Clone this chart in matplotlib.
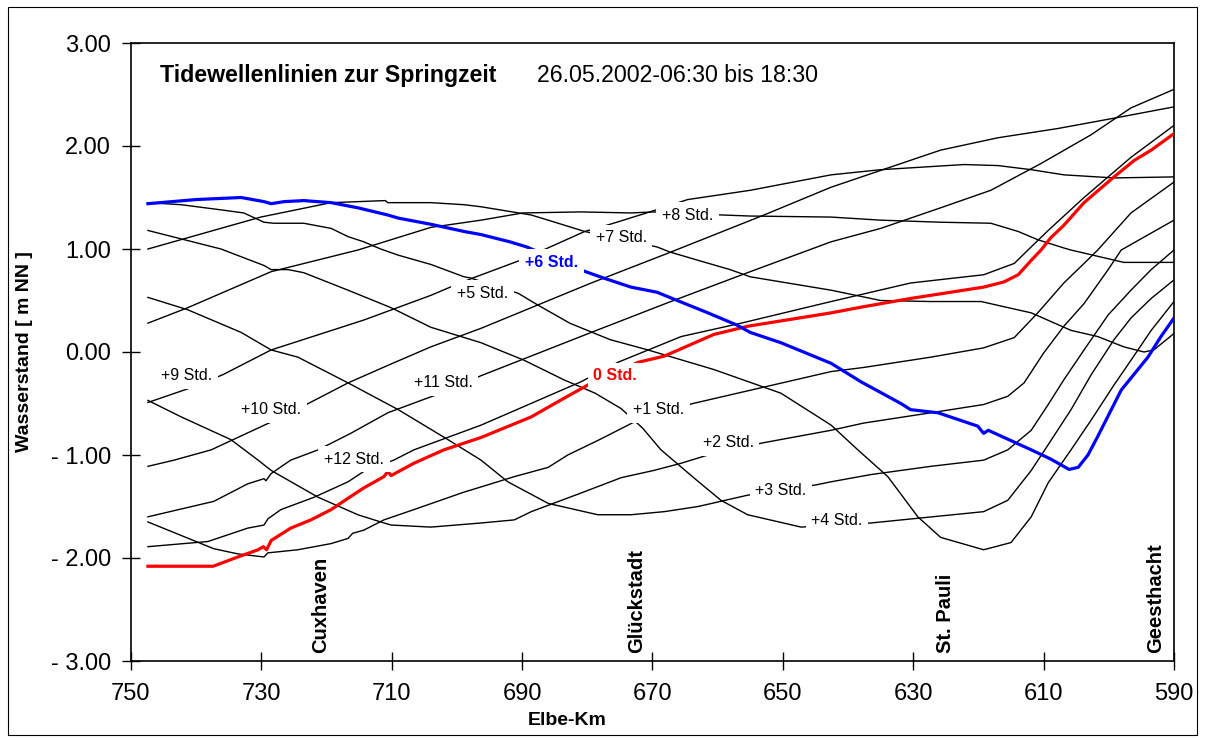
import matplotlib
matplotlib.use("Agg")
import matplotlib.pyplot as plt
from matplotlib.patches import Rectangle
from matplotlib.ticker import FuncFormatter

plt.rcParams['font.family'] = ['Liberation Sans', 'DejaVu Sans']

# Tidewellenlinien 26.05.2002, Elbe-Km und Wasserstand [m NN] je Stunde
km_0 = [747.4, 737.4, 733.6, 730.5, 729.7, 729.2, 728.5, 725.5, 722.4, 719.3, 716.7, 714.3, 711.2, 710.6, 710.1, 706.6, 702.0, 696.3, 688.6, 683.6, 679.9, 672.2, 668.2, 660.6, 655.4, 642.6, 637.6, 630.4, 625.3, 619.2, 616.1, 613.9, 611.9, 610.4, 608.9, 606.9, 603.8, 599.2, 596.1, 593.5, 590.0]
wl_0 = [-2.08, -2.08, -1.99, -1.92, -1.89, -1.92, -1.83, -1.71, -1.63, -1.53, -1.42, -1.32, -1.21, -1.16, -1.20, -1.08, -0.95, -0.83, -0.63, -0.45, -0.32, -0.10, -0.04, 0.17, 0.25, 0.38, 0.44, 0.52, 0.57, 0.63, 0.68, 0.75, 0.89, 0.99, 1.11, 1.23, 1.45, 1.70, 1.86, 1.96, 2.12]

km_1 = [747.4, 737.3, 733.6, 729.6, 729.0, 724.4, 719.3, 716.7, 716.0, 714.3, 711.2, 706.6, 698.9, 696.3, 691.2, 686.0, 683.0, 678.1, 672.2, 663.8, 642.6, 637.6, 627.3, 619.2, 614.5, 610.9, 606.9, 603.8, 601.7, 596.6, 590.0]
wl_1 = [-1.65, -1.91, -1.96, -1.99, -1.95, -1.92, -1.86, -1.81, -1.76, -1.73, -1.63, -1.53, -1.36, -1.31, -1.21, -1.12, -1.00, -0.85, -0.66, -0.50, -0.19, -0.15, -0.05, 0.04, 0.14, 0.38, 0.67, 0.86, 0.99, 1.35, 1.65]

km_2 = [747.4, 742.3, 734.7, 730.5, 728.5, 721.3, 715.2, 711.7, 710.1, 704.0, 696.3, 691.2, 688.6, 681.0, 674.8, 669.8, 665.6, 661.5, 652.9, 642.6, 637.6, 627.3, 619.2, 615.5, 613.0, 610.0, 606.9, 603.8, 600.1, 598.1, 590.0]
wl_2 = [-0.47, -0.63, -0.85, -1.05, -1.15, -1.41, -1.58, -1.65, -1.68, -1.70, -1.66, -1.63, -1.55, -1.37, -1.22, -1.15, -1.08, -1.00, -0.88, -0.76, -0.69, -0.59, -0.51, -0.43, -0.30, -0.01, 0.25, 0.47, 0.80, 0.99, 1.28]

km_3 = [747.4, 741.3, 733.1, 728.5, 724.4, 716.7, 709.0, 701.4, 696.3, 692.2, 686.0, 678.4, 673.3, 668.2, 663.0, 655.4, 644.9, 642.6, 636.5, 627.3, 619.2, 615.5, 611.9, 609.3, 606.9, 603.8, 600.1, 596.6, 593.5, 590.0]
wl_3 = [0.53, 0.41, 0.19, 0.02, -0.05, -0.30, -0.56, -0.85, -1.05, -1.26, -1.47, -1.58, -1.58, -1.55, -1.50, -1.39, -1.29, -1.26, -1.19, -1.11, -1.05, -0.95, -0.76, -0.51, -0.27, 0.02, 0.36, 0.60, 0.80, 0.99]

km_4 = [747.4, 736.2, 729.6, 728.5, 725.9, 723.5, 716.7, 710.1, 704.0, 696.3, 689.7, 683.6, 678.8, 674.8, 671.5, 668.7, 663.5, 659.5, 655.4, 647.2, 636.5, 619.2, 615.5, 611.9, 609.3, 605.8, 602.7, 599.2, 596.6, 593.5, 590.0]
wl_4 = [1.18, 1.00, 0.84, 0.80, 0.80, 0.77, 0.60, 0.43, 0.24, 0.09, -0.08, -0.27, -0.40, -0.55, -0.74, -0.95, -1.23, -1.44, -1.58, -1.70, -1.66, -1.55, -1.44, -1.15, -0.90, -0.56, -0.22, 0.12, 0.33, 0.52, 0.70]

km_5 = [747.4, 742.3, 736.2, 732.7, 729.6, 728.1, 723.5, 719.3, 716.7, 714.3, 711.7, 709.0, 704.0, 698.9, 698.0, 690.6, 687.7, 682.7, 676.5, 670.7, 660.6, 650.3, 642.6, 638.5, 633.9, 629.3, 625.8, 619.2, 615.0, 611.9, 609.3, 605.8, 602.7, 599.2, 596.6, 593.5, 590.0]
wl_5 = [1.45, 1.43, 1.38, 1.35, 1.26, 1.25, 1.25, 1.20, 1.12, 1.07, 1.00, 0.94, 0.85, 0.73, 0.72, 0.57, 0.46, 0.28, 0.12, 0.02, -0.17, -0.40, -0.71, -0.95, -1.21, -1.60, -1.80, -1.92, -1.85, -1.60, -1.27, -0.95, -0.66, -0.32, -0.08, 0.21, 0.49]

km_6 = [747.4, 740.0, 733.1, 729.6, 728.5, 726.5, 723.5, 719.3, 715.2, 710.6, 709.0, 704.0, 698.9, 696.3, 691.9, 689.3, 680.7, 677.6, 673.3, 669.3, 666.2, 661.5, 657.0, 655.0, 650.3, 642.6, 638.0, 631.9, 630.4, 626.2, 620.1, 619.2, 618.5, 611.9, 608.9, 606.1, 604.7, 603.2, 601.7, 598.1, 594.0, 592.0, 590.0]
wl_6 = [1.44, 1.48, 1.50, 1.46, 1.44, 1.46, 1.47, 1.45, 1.40, 1.33, 1.30, 1.24, 1.17, 1.14, 1.07, 1.02, 0.79, 0.72, 0.63, 0.58, 0.50, 0.38, 0.26, 0.19, 0.09, -0.11, -0.29, -0.50, -0.56, -0.59, -0.72, -0.79, -0.76, -0.95, -1.04, -1.14, -1.12, -1.00, -0.82, -0.37, -0.05, 0.15, 0.33]

km_7 = [747.4, 730.1, 719.3, 711.0, 710.6, 704.0, 698.9, 696.3, 688.6, 686.0, 680.4, 669.3, 667.3, 663.0, 658.1, 655.0, 642.6, 635.0, 627.3, 619.6, 611.9, 605.8, 601.7, 597.7, 594.6, 593.1, 590.0]
wl_7 = [1.00, 1.31, 1.45, 1.47, 1.45, 1.45, 1.43, 1.41, 1.33, 1.28, 1.17, 1.02, 0.97, 0.89, 0.80, 0.73, 0.60, 0.50, 0.49, 0.49, 0.38, 0.21, 0.15, 0.05, 0.00, 0.02, 0.18]

km_8 = [747.4, 741.3, 728.5, 715.2, 704.0, 696.3, 689.9, 681.0, 673.3, 669.9, 659.2, 655.0, 642.6, 635.0, 625.8, 618.1, 613.9, 610.9, 606.9, 605.8, 597.7, 590.0]
wl_8 = [0.28, 0.43, 0.78, 0.99, 1.21, 1.28, 1.35, 1.36, 1.35, 1.36, 1.33, 1.32, 1.31, 1.28, 1.26, 1.25, 1.17, 1.09, 1.01, 0.99, 0.87, 0.87]

km_9 = [747.4, 740.5, 735.9, 728.5, 714.3, 704.0, 701.4, 697.5, 690.3, 685.7, 680.4, 676.5, 670.4, 664.6, 655.0, 642.6, 635.0, 622.2, 617.0, 611.9, 606.9, 599.2, 590.0]
wl_9 = [-0.49, -0.34, -0.22, 0.02, 0.31, 0.55, 0.62, 0.72, 0.89, 1.02, 1.17, 1.24, 1.36, 1.48, 1.57, 1.72, 1.77, 1.82, 1.81, 1.77, 1.72, 1.69, 1.70]

km_10 = [747.4, 743.4, 737.7, 729.2, 728.5, 722.8, 716.7, 710.6, 704.0, 696.3, 679.4, 667.6, 652.9, 642.6, 625.8, 617.0, 607.8, 599.2, 590.0]
wl_10 = [-1.11, -1.05, -0.95, -0.70, -0.68, -0.50, -0.30, -0.13, 0.05, 0.23, 0.67, 0.96, 1.33, 1.60, 1.96, 2.08, 2.17, 2.27, 2.38]

km_11 = [747.4, 737.3, 732.1, 729.6, 729.3, 728.5, 725.5, 721.3, 716.3, 710.6, 705.5, 702.9, 696.3, 679.4, 667.6, 655.0, 642.6, 635.0, 625.8, 618.1, 610.4, 602.7, 596.6, 590.0]
wl_11 = [-1.60, -1.45, -1.28, -1.23, -1.25, -1.18, -1.05, -0.95, -0.79, -0.59, -0.47, -0.41, -0.23, 0.19, 0.48, 0.78, 1.07, 1.20, 1.40, 1.57, 1.83, 2.11, 2.37, 2.55]

km_12 = [747.4, 738.2, 732.1, 729.6, 729.0, 727.0, 721.9, 716.7, 714.3, 709.7, 706.6, 696.3, 681.0, 675.3, 665.6, 656.4, 642.6, 630.4, 619.2, 614.5, 612.4, 609.3, 603.8, 596.6, 590.0]
wl_12 = [-1.89, -1.84, -1.71, -1.68, -1.62, -1.53, -1.41, -1.26, -1.16, -1.05, -0.95, -0.71, -0.29, -0.10, 0.15, 0.28, 0.49, 0.67, 0.75, 0.86, 0.99, 1.18, 1.50, 1.89, 2.20]

std_names = ['0 Std.', '+1 Std.', '+2 Std.', '+3 Std.', '+4 Std.', '+5 Std.', '+6 Std.',
             '+7 Std.', '+8 Std.', '+9 Std.', '+10 Std.', '+11 Std.', '+12 Std.']
places = ['Cuxhaven', 'Glückstadt', 'St. Pauli', 'Geesthacht']
place_km = [720.9, 672.4, 625.0, 592.8]

all_km = [km_0, km_1, km_2, km_3, km_4, km_5, km_6, km_7, km_8, km_9, km_10, km_11, km_12]
all_wl = [wl_0, wl_1, wl_2, wl_3, wl_4, wl_5, wl_6, wl_7, wl_8, wl_9, wl_10, wl_11, wl_12]

# where the hour labels sit (km, m NN)
label_pos = [(675.7, -0.23), (669.1, -0.56), (658.4, -0.88), (650.3, -1.34), (641.7, -1.64),
             (696.1, 0.57), (685.5, 0.87), (674.8, 1.11), (664.6, 1.33), (741.4, -0.23),
             (728.5, -0.56), (702.1, -0.30), (715.8, -1.04)]

fig = plt.figure(figsize=(12.05, 7.40), dpi=100)
ax = fig.add_axes([131/1205, 1 - 661/740, (1174 - 131)/1205, (661 - 43)/740])

for i in range(13):
    if i == 0:
        ax.plot(all_km[i], all_wl[i], color='#ff0000', lw=2.3, zorder=3)
    elif i == 6:
        ax.plot(all_km[i], all_wl[i], color='#0000ff', lw=2.3, zorder=3)
    else:
        ax.plot(all_km[i], all_wl[i], color='black', lw=1.0, zorder=2)

for i in range(13):
    col = 'black'
    wgt = 'normal'
    if i == 0:
        col, wgt = '#ff0000', 'bold'
    elif i == 6:
        col, wgt = '#0000ff', 'bold'
    ax.text(label_pos[i][0], label_pos[i][1], std_names[i], color=col, fontweight=wgt,
            fontsize=11.5, ha='center', va='center', zorder=5,
            bbox=dict(boxstyle='square,pad=0.35', fc='white', ec='none'))

for name, k in zip(places, place_km):
    ax.text(k, -2.92, name, rotation=90, ha='center', va='bottom',
            fontsize=14.5, fontweight='bold', zorder=4)

ax.text(0.028, 0.947, 'Tidewellenlinien zur Springzeit', transform=ax.transAxes,
        fontsize=16.7, fontweight='bold', ha='left', va='center')
ax.text(0.389, 0.947, '26.05.2002-06:30 bis 18:30', transform=ax.transAxes,
        fontsize=16.7, ha='left', va='center')

ax.set_xlim(750, 590)
ax.set_ylim(-3, 3)
ax.set_xticks(range(750, 589, -20))
ax.set_yticks([-3, -2, -1, 0, 1, 2, 3])
ax.yaxis.set_major_formatter(FuncFormatter(lambda v, p: '- %.2f' % abs(v) if v < 0 else '%.2f' % v))
ax.tick_params(direction='inout', length=13, width=1.0, labelsize=17)
ax.tick_params(axis='y', pad=8)
ax.tick_params(axis='x', pad=9)
for s in ax.spines.values():
    s.set_linewidth(1.2)

ax.set_ylabel('Wasserstand [ m NN ]', fontsize=14, fontweight='bold')
ax.yaxis.set_label_coords(-0.094, 0.5)
ax.set_xlabel('Elbe-Km', fontsize=14, fontweight='bold')
ax.xaxis.set_label_coords(0.418, -0.082)

fig.patches.append(Rectangle((8/1205, 5/740), 1189/1205, 728/740, transform=fig.transFigure,
                             fill=False, ec='black', lw=0.8))

fig.savefig('out.png', dpi=100)
